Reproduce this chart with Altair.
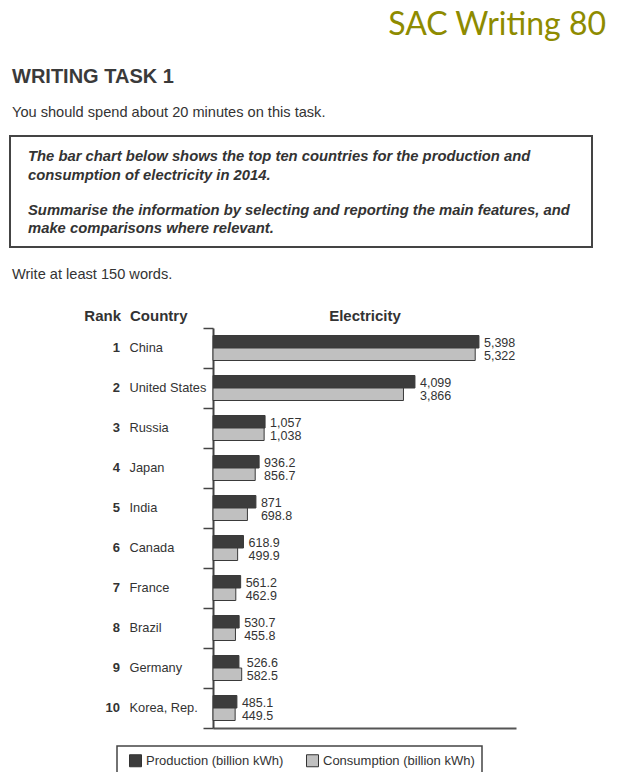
import altair as alt
import pandas as pd

# ---------------- data ----------------
ranks = [1, 2, 3, 4, 5, 6, 7, 8, 9, 10]
countries = ["China", "United States", "Russia", "Japan", "India",
             "Canada", "France", "Brazil", "Germany", "Korea, Rep."]
production = [5398, 4099, 1057, 936.2, 871, 618.9, 561.2, 530.7, 526.6, 485.1]
consumption = [5322, 3866, 1038, 856.7, 698.8, 499.9, 462.9, 455.8, 582.5, 449.5]
series = ["Production (billion kWh)", "Consumption (billion kWh)"]


def fmt(v):
    return f"{v:,.0f}" if v >= 1000 else f"{v:g}"


rows = []
for c, p, q in zip(countries, production, consumption):
    rows.append({"Country": c, "Series": series[0], "Value": p, "Label": fmt(p)})
    rows.append({"Country": c, "Series": series[1], "Value": q, "Label": fmt(q)})
df = pd.DataFrame(rows)
df_c = pd.DataFrame({"Country": countries, "Rank": [str(r) for r in ranks]})

FONT = "Liberation Sans"
INK = "#333333"
OX, OY = 213, 328  # page position of plot origin

y_enc = alt.Y("Country:N", sort=countries,
              scale=alt.Scale(domain=countries, paddingInner=0, paddingOuter=0))
yoff_enc = alt.YOffset("Series:N", sort=series,
                       scale=alt.Scale(domain=series, paddingInner=0, paddingOuter=0.6))

bars = alt.Chart(df).mark_bar(stroke="#3a3a3a", strokeWidth=1).encode(
    x=alt.X("Value:Q", scale=alt.Scale(domain=[0, 6150], nice=False, zero=True),
            axis=alt.Axis(labels=False, ticks=False, title=None, grid=False,
                          domainColor="#555555", domainWidth=2)),
    y=alt.Y("Country:N", sort=countries,
            scale=alt.Scale(domain=countries, paddingInner=0, paddingOuter=0),
            axis=alt.Axis(labels=False, title=None, grid=False, ticks=True,
                          tickBand="extent", tickSize=10, tickColor="#444444",
                          tickWidth=1.5, domainColor="#444444", domainWidth=2)),
    yOffset=yoff_enc,
    color=alt.Color("Series:N", sort=series,
                    scale=alt.Scale(domain=series, range=["#3c3c3c", "#c0c0c0"]),
                    legend=alt.Legend(orient="none", legendX=129 - OX, legendY=754 - OY,
                                      direction="horizontal", title=None,
                                      symbolType="square", symbolSize=144,
                                      symbolStrokeColor="#333333", symbolStrokeWidth=1,
                                      labelFont=FONT, labelFontSize=13, labelColor=INK,
                                      labelOffset=4, columnPadding=20, padding=0,
                                      labelLimit=300)),
)

labels = alt.Chart(df).transform_joinaggregate(
    maxv="max(Value)", groupby=["Country"]
).mark_text(align="left", baseline="middle", dx=5, dy=1.5, fontSize=12.5,
            font=FONT, color=INK).encode(
    x=alt.X("maxv:Q"),
    y=y_enc,
    yOffset=yoff_enc,
    text="Label:N",
)

rank_txt = alt.Chart(df_c).mark_text(align="right", baseline="middle", fontSize=13,
                                     fontWeight="bold", font=FONT, color=INK).encode(
    x=alt.value(120 - OX), y=y_enc, text="Rank:N")
country_txt = alt.Chart(df_c).mark_text(align="left", baseline="middle", fontSize=12.8,
                                        font=FONT, color=INK).encode(
    x=alt.value(129.5 - OX), y=y_enc, text="Country:N")


def txt(s, x, y, size, weight="normal", style="normal", align="left",
        color=INK, font=FONT):
    return alt.Chart(pd.DataFrame({"t": [s]})).mark_text(
        align=align, baseline="alphabetic", fontSize=size, fontWeight=weight,
        fontStyle=style, font=font, color=color
    ).encode(x=alt.value(x - OX), y=alt.value(y - OY), text="t:N")


def box(x1, x2, y1, y2, width):
    return alt.Chart(pd.DataFrame({"a": [0]})).mark_rect(
        fillOpacity=0, stroke="#444444", strokeWidth=width
    ).encode(x=alt.value(x1 - OX), x2=alt.value(x2 - OX),
             y=alt.value(y1 - OY), y2=alt.value(y2 - OY))


deco = [
    txt("SAC Writing 80", 606, 35, 32, color="#8e8b00", align="right", font="Lato"),
    txt("WRITING TASK 1", 12, 82.7, 20, weight="bold", color="#3a3a3a"),
    txt("You should spend about 20 minutes on this task.", 12, 116.5, 14.6),
    box(10, 592, 136, 247, 2),
    txt("The bar chart below shows the top ten countries for the production and",
        28, 161, 14.8, weight="bold", style="italic"),
    txt("consumption of electricity in 2014.", 28, 179.5, 14.8, weight="bold", style="italic"),
    txt("Summarise the information by selecting and reporting the main features, and",
        28, 214.5, 14.8, weight="bold", style="italic"),
    txt("make comparisons where relevant.", 28, 233, 14.8, weight="bold", style="italic"),
    txt("Write at least 150 words.", 12, 278.5, 14.6),
    txt("Rank", 121, 321, 15, weight="bold", align="right"),
    txt("Country", 130, 321, 15, weight="bold"),
    txt("Electricity", 365, 321, 15, weight="bold", align="center"),
    box(117, 482, 746, 775, 1.5),
]

chart = alt.layer(bars, labels, rank_txt, country_txt, *deco).properties(
    width=303, height=400,
    padding={"left": OX - 8, "top": OY - 8, "right": 603 - (OX - 8) - 303, "bottom": 44},
    autosize=alt.AutoSizeParams(type="none"),
    background="white",
).configure_view(stroke="transparent")

chart.save("out.html", embed_options={"renderer": "svg", "actions": False})
